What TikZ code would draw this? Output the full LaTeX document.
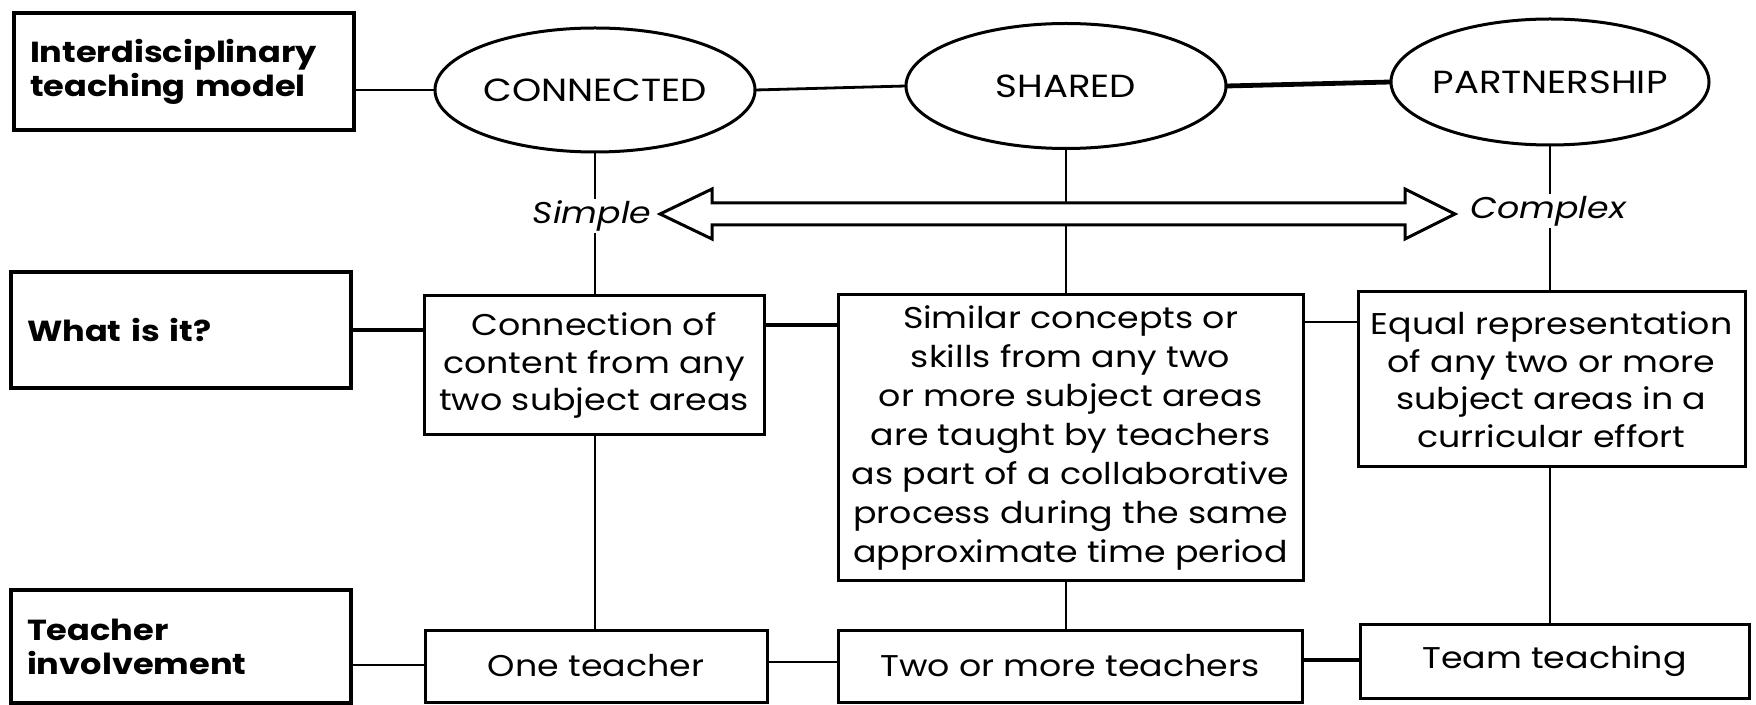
\documentclass[tikz,border=0pt]{standalone}
\usepackage{fontspec}
\setmainfont{Poppins}[FakeStretch=1.16]
\usetikzlibrary{calc}
\begin{document}
\begin{tikzpicture}[x=0.5pt,y=-0.5pt,
  box/.style={draw,line width=1.5pt,inner sep=0pt,align=center,font=\fontsize{15}{18.75}\selectfont},
  lab/.style={draw,line width=1.6pt,inner xsep=8pt,inner ysep=0pt,align=left,text width=154pt,font=\bfseries\fontsize{14.5}{17}\selectfont},
  ovaltext/.style={inner sep=0pt,font=\fontsize{16}{18}\selectfont},
  oval/.style={line width=1.5pt},
  con/.style={line width=1.4pt},
  conth/.style={line width=2.4pt},
  tag/.style={fill=white,inner sep=1pt,font=\itshape\fontsize{15}{18}\selectfont}]
\useasboundingbox (0,0) rectangle (1756,705);
% left labels
\node[lab,minimum height=58.5pt] (model) at (184,71.5) {Interdisciplinary\\teaching model};
\node[lab,minimum height=58pt] (what) at (181,330) {What is it?};
\node[lab,minimum height=56.5pt] (inv) at (181,646.5) {Teacher\\involvement};
% ellipses (text nodes sized like the ellipses, outlines drawn round them)
\node[ovaltext,minimum width=160pt,minimum height=62pt] (conn) at (595,90) {CONNECTED};
\draw[oval] (conn.center) ellipse [x radius=80pt, y radius=31pt];
\node[ovaltext,minimum width=160pt,minimum height=62.5pt] (shared) at (1066,86) {SHARED};
\draw[oval] (shared.center) ellipse [x radius=80pt, y radius=31.25pt];
\node[ovaltext,minimum width=159pt,minimum height=63pt] (part) at (1550,82) {PARTNERSHIP};
\draw[oval] (part.center) ellipse [x radius=79.5pt, y radius=31.5pt];
% what is it boxes
\node[box,minimum width=170pt,minimum height=69.5pt] (cbox) at (594,365.5) {Connection of\\content from any\\two subject areas};
\node[box,minimum width=232.5pt,minimum height=142.5pt,font=\fontsize{15}{19.5}\selectfont] (sbox) at (1070.5,437.5) {Similar concepts or\\skills from any two\\or more subject areas\\are taught by teachers\\as part of a collaborative\\process during the same\\approximate time period};
\node[box,minimum width=193.5pt,minimum height=87.5pt] (ebox) at (1551.5,379.5) {Equal representation\\of any two or more\\subject areas in a\\curricular effort};
% teacher boxes
\node[box,minimum width=171pt,minimum height=36pt] (one) at (596,666) {One teacher};
\node[box,minimum width=232pt,minimum height=36pt] (two) at (1070,666) {Two or more teachers};
\node[box,minimum width=194.5pt,minimum height=37pt] (team) at (1554.5,661) {Team teaching};
% vertical connectors
\draw[con] (conn.south) -- (conn.south |- cbox.north);
\draw[con] (conn.south |- cbox.south) -- (conn.south |- one.north);
\draw[con] (shared.south) -- (shared.south |- sbox.north);
\draw[con] (shared.south |- sbox.south) -- (shared.south |- two.north);
\draw[con] (part.south) -- (part.south |- ebox.north);
\draw[con] (part.south |- ebox.south) -- (part.south |- team.north);
% horizontal connectors
\draw[con] (conn.west -| model.east) -- (conn.west);
\draw[con] (conn.east) -- (shared.west);
\draw[conth] (shared.east) -- (part.west);
\draw[conth] (what.east |- 0,330) -- (cbox.west |- 0,330);
\draw[conth] (cbox.east |- 0,325) -- (sbox.west |- 0,325);
\draw[con] (sbox.east |- 0,322) -- (ebox.west |- 0,322);
\draw[con] (inv.east |- 0,665) -- (one.west |- 0,665);
\draw[con] (one.east |- 0,662) -- (two.west |- 0,662);
\draw[conth] (two.east |- 0,660) -- (team.west |- 0,660);
% scale labels
\node[tag] (simple) at (592,216) {Simple};
\node[tag] (complex) at (1548,211) {Complex};
% double arrow between the labels
\coordinate (aL) at (660,214);
\coordinate (aR) at (1455,214);
\draw[line width=1.5pt,fill=white,line join=miter]
  (aL) -- ($(aL)+(52,-25)$) -- ($(aL)+(52,-11)$) -- ($(aR)+(-50,-11)$) -- ($(aR)+(-50,-25)$)
  -- (aR) -- ($(aR)+(-50,25)$) -- ($(aR)+(-50,11)$) -- ($(aL)+(52,11)$) -- ($(aL)+(52,25)$) -- cycle;
\end{tikzpicture}
\end{document}
